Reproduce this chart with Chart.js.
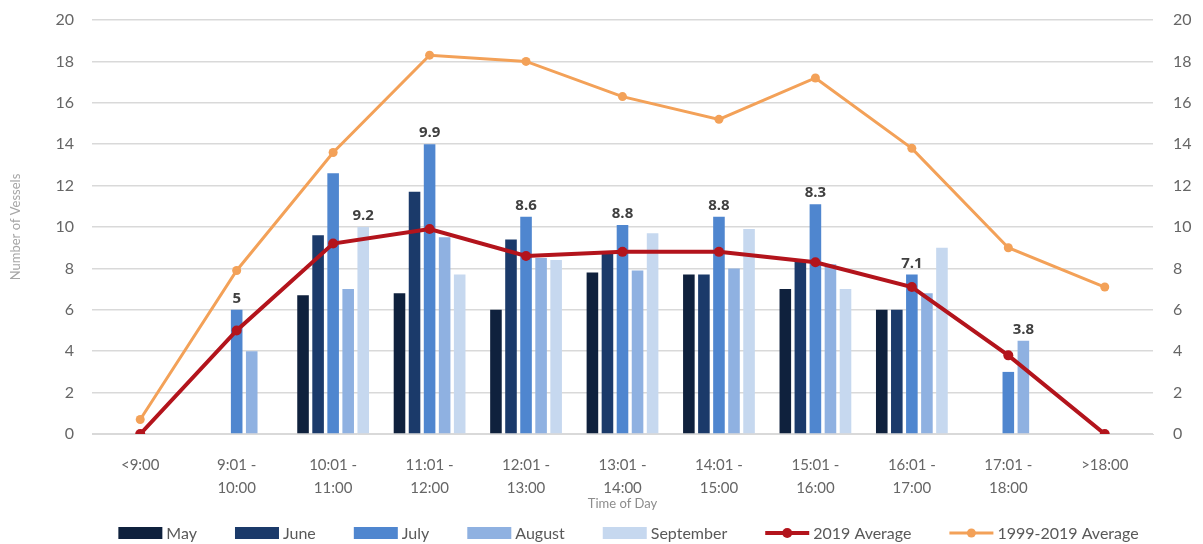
<!DOCTYPE html>
<html>
<head>
<meta charset="utf-8">
<script src="https://cdn.jsdelivr.net/npm/chart.js@4/dist/chart.umd.min.js"></script>
<style>
  html, body { margin: 0; padding: 0; background: #ffffff; }
  #wrap { width: 1203px; height: 544px; position: relative; }
</style>
</head>
<body>
<div id="wrap"><canvas id="chart"></canvas></div>
<script>
// Time-of-day bins (multi-line tick labels)
const timeSlots = [
  ['<9:00'],
  ['9:01 -', '10:00'],
  ['10:01 -', '11:00'],
  ['11:01 -', '12:00'],
  ['12:01 -', '13:00'],
  ['13:01 -', '14:00'],
  ['14:01 -', '15:00'],
  ['15:01 -', '16:00'],
  ['16:01 -', '17:00'],
  ['17:01 -', '18:00'],
  ['>18:00']
];

// Monthly vessel counts per bin (null = no vessels recorded)
const mayCounts       = [null, null, 6.7, 6.8, 6.0, 7.8, 7.7, 7.0, 6.0, null, null];
const juneCounts      = [null, null, 9.6, 11.7, 9.4, 8.7, 7.7, 8.4, 6.0, null, null];
const julyCounts      = [null, 6.0, 12.6, 14.0, 10.5, 10.1, 10.5, 11.1, 7.7, 3.0, null];
const augustCounts    = [null, 4.0, 7.0, 9.5, 8.5, 7.9, 8.0, 8.2, 6.8, 4.5, null];
const septemberCounts = [null, null, 10.0, 7.7, 8.4, 9.7, 9.9, 7.0, 9.0, null, null];

// Seasonal averages
const average2019       = [0, 5, 9.2, 9.9, 8.6, 8.8, 8.8, 8.3, 7.1, 3.8, 0];
const average1999to2019 = [0.7, 7.9, 13.6, 18.3, 18.0, 16.3, 15.2, 17.2, 13.8, 9.0, 7.1];

// Which month's bar each 2019-average value label sits over
const labelOverSeries = [null, 'July', 'September', 'July', 'July', 'July', 'July', 'July', 'July', 'August', null];

// Value axis
const yMin = 0, yMax = 20, yStep = 2;

const FONT = "Lato, 'Open Sans', 'DejaVu Sans', sans-serif";
const GREY_TEXT = '#666666';

const colors = {
  may: '#0f213d',
  june: '#1b3a6a',
  july: '#4f86cf',
  august: '#8fb1e1',
  september: '#c6d8ef',
  avg2019: '#b3141c',
  avgLong: '#f3a158'
};

function barDataset(label, data, color) {
  return {
    type: 'bar',
    label: label,
    data: data,
    backgroundColor: color,
    borderWidth: 0,
    categoryPercentage: 0.78,
    barPercentage: 0.77,
    yAxisID: 'y',
    order: 3
  };
}

// Value labels for the 2019 average, drawn above a chosen bar of each bin
const averageLabelsPlugin = {
  id: 'averageLabels',
  afterDatasetsDraw(chart) {
    const ctx = chart.ctx;
    const yScale = chart.scales.y;
    ctx.save();
    ctx.font = "bold 15px 'Open Sans', 'DejaVu Sans', sans-serif";
    ctx.fillStyle = '#404040';
    ctx.textAlign = 'center';
    ctx.textBaseline = 'alphabetic';
    labelOverSeries.forEach((seriesName, i) => {
      if (!seriesName) return;
      const dsIndex = chart.data.datasets.findIndex(d => d.label === seriesName);
      const bar = chart.getDatasetMeta(dsIndex).data[i];
      const value = chart.data.datasets[dsIndex].data[i];
      const top = yScale.getPixelForValue(value);
      ctx.fillText(String(average2019[i]), bar.x, top - 7);
    });
    ctx.restore();
  }
};

// Single-row legend along the bottom edge: wide swatches for bars,
// line-with-marker swatches for the averages
const bottomLegendPlugin = {
  id: 'bottomLegend',
  afterDraw(chart) {
    const ctx = chart.ctx;
    const swatchW = 44, swatchH = 12, textGap = 4, itemGap = 38;
    const fontSize = 16;
    ctx.save();
    ctx.font = fontSize + 'px ' + FONT;
    const items = chart.data.datasets.map(ds => ({
      ds: ds,
      textW: ctx.measureText(ds.label).width
    }));
    const total = items.reduce((s, it) => s + swatchW + textGap + it.textW, 0) + itemGap * (items.length - 1);
    const area = chart.chartArea;
    let x = (area.left + area.right) / 2 - total / 2 + 6;
    const yc = chart.height - 11;
    items.forEach(it => {
      const ds = it.ds;
      if (ds.type === 'bar') {
        ctx.fillStyle = ds.backgroundColor;
        ctx.fillRect(x, yc - swatchH / 2, swatchW, swatchH);
      } else {
        ctx.strokeStyle = ds.borderColor;
        ctx.lineWidth = ds.borderWidth;
        ctx.beginPath();
        ctx.moveTo(x, yc);
        ctx.lineTo(x + swatchW, yc);
        ctx.stroke();
        ctx.fillStyle = ds.borderColor;
        ctx.beginPath();
        ctx.arc(x + swatchW / 2, yc, ds.pointRadius, 0, Math.PI * 2);
        ctx.fill();
      }
      ctx.fillStyle = '#595959';
      ctx.textAlign = 'left';
      ctx.textBaseline = 'middle';
      ctx.fillText(ds.label, x + swatchW + textGap, yc + 1);
      x += swatchW + textGap + it.textW + itemGap;
    });
    ctx.restore();
  }
};

const data = {
  labels: timeSlots,
  datasets: [
    barDataset('May', mayCounts, colors.may),
    barDataset('June', juneCounts, colors.june),
    barDataset('July', julyCounts, colors.july),
    barDataset('August', augustCounts, colors.august),
    barDataset('September', septemberCounts, colors.september),
    {
      type: 'line',
      label: '2019 Average',
      data: average2019,
      borderColor: colors.avg2019,
      backgroundColor: colors.avg2019,
      borderWidth: 4,
      pointRadius: 5,
      pointHoverRadius: 5,
      pointBorderWidth: 0,
      tension: 0,
      yAxisID: 'y',
      order: 1
    },
    {
      type: 'line',
      label: '1999-2019 Average',
      data: average1999to2019,
      borderColor: colors.avgLong,
      backgroundColor: colors.avgLong,
      borderWidth: 3,
      pointRadius: 4.5,
      pointHoverRadius: 4.5,
      pointBorderWidth: 0,
      tension: 0,
      yAxisID: 'y',
      order: 2
    }
  ]
};

// Fixed axis boxes so the plot area keeps the same frame
function fitValueAxis(width) {
  return function (scale) {
    scale.width = width;
    scale.paddingTop = 0;
    scale.paddingBottom = 0;
  };
}

new Chart(document.getElementById('chart'), {
  data: data,
  plugins: [averageLabelsPlugin, bottomLegendPlugin],
  options: {
    responsive: true,
    maintainAspectRatio: false,
    animation: false,
    layout: { padding: { top: 20, right: 0, bottom: 30, left: 0 } },
    plugins: {
      tooltip: { enabled: false },
      legend: { display: false }
    },
    scales: {
      x: {
        grid: { display: false, drawTicks: false },
        border: { display: true, color: '#d9d9d9', width: 1 },
        ticks: {
          color: GREY_TEXT,
          font: { family: FONT, size: 15, lineHeight: 1.5 },
          padding: 20,
          maxRotation: 0,
          autoSkip: false
        },
        title: {
          display: true,
          text: 'Time of Day',
          color: '#8c8c8c',
          font: { family: FONT, size: 13 },
          padding: { top: 0, bottom: 2 }
        },
        afterFit(scale) { scale.height = 80; }
      },
      y: {
        position: 'left',
        min: yMin,
        max: yMax,
        grid: { color: '#d9d9d9', lineWidth: 1.5, drawTicks: false },
        border: { display: false },
        ticks: {
          stepSize: yStep,
          color: GREY_TEXT,
          font: { family: FONT, size: 16 },
          padding: 18
        },
        title: {
          display: true,
          text: 'Number of Vessels',
          color: '#a6a6a6',
          font: { family: FONT, size: 13 },
          padding: { top: 8, bottom: 0 }
        },
        afterFit: fitValueAxis(92)
      },
      y2: {
        position: 'right',
        min: yMin,
        max: yMax,
        grid: { display: false, drawTicks: false },
        border: { display: false },
        ticks: {
          stepSize: yStep,
          color: GREY_TEXT,
          font: { family: FONT, size: 16 },
          padding: 20
        },
        afterFit: fitValueAxis(50)
      }
    }
  }
});
</script>
</body>
</html>
